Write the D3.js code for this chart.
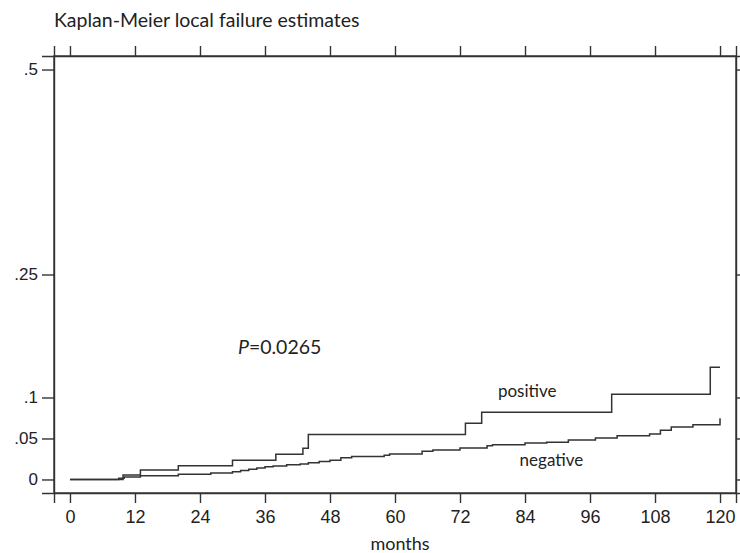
<!DOCTYPE html>
<html>
<head>
<meta charset="utf-8">
<script src="https://cdn.jsdelivr.net/npm/d3@7"></script>
<style>
  body { margin: 0; background: #fff; }
  svg { display: block; font-family: Lato, "Open Sans", sans-serif; }
  .axis text { fill: #222; }
  .axis path, .axis line { stroke: #333; stroke-width: 1.4px; }
</style>
</head>
<body>
<div id="chart"></div>
<script>
// Kaplan-Meier : estimations des échecs locaux

const xTicks = [0, 12, 24, 36, 48, 60, 72, 84, 96, 108, 120];
const yTicks = [0, 0.05, 0.1, 0.25, 0.5];
const yTickLabels = ["0", ".05", ".1", ".25", ".5"];

// [mois, probabilité cumulée d'échec]
const positive = [
    [0, 0], [9.8, 0.0055], [13, 0.0116], [20, 0.0168], [30, 0.0234],
    [38, 0.0307], [43, 0.038], [44, 0.0549], [73, 0.0685], [76, 0.082],
    [100, 0.104], [118.2, 0.137], [120, 0.137]
];

const negative = [
    [0, 0], [9, 0.0015], [10, 0.003], [13, 0.0045], [20, 0.0063],
    [26, 0.0078], [30, 0.0095], [31.5, 0.011], [33, 0.0125], [34.5, 0.014],
    [36, 0.0155], [37.5, 0.0165], [40, 0.018], [42.5, 0.019], [44, 0.0205],
    [46, 0.022], [48, 0.0235], [50, 0.0265], [52, 0.028], [58, 0.0295],
    [59, 0.031], [65, 0.0345], [67, 0.036], [72, 0.0385], [77, 0.041],
    [78, 0.0425], [84, 0.0445], [88, 0.0455], [92, 0.048], [97, 0.0505],
    [101, 0.0533], [107, 0.0555], [109, 0.06], [111, 0.064], [115, 0.0668],
    [120, 0.0746]
];

function createChart() {
    const margin = { top: 56, right: 4, bottom: 60, left: 54 };
    const width = 740 - margin.left - margin.right;
    const height = 553 - margin.top - margin.bottom;

    const svg = d3.select("#chart")
        .append("svg")
        .attr("width", 740)
        .attr("height", 553);

    const g = svg.append("g")
        .attr("transform", `translate(${margin.left},${margin.top})`);

    // Échelles
    const x = d3.scaleLinear().domain([-2.95, 122.95]).range([0, width]);
    const y = d3.scaleLinear().domain([-0.0165, 0.5165]).range([height, 0]);

    // Axes
    g.append("g")
        .attr("class", "axis")
        .attr("transform", `translate(0,${height})`)
        .call(d3.axisBottom(x).tickValues(xTicks).tickSizeOuter(0).tickSize(10))
        .call(a => a.selectAll("text")
            .attr("y", 30)
            .attr("dy", 0)
            .style("font-size", "18px"));

    g.append("g")
        .attr("class", "axis")
        .call(d3.axisTop(x).tickValues(xTicks).tickSizeOuter(0).tickSize(10).tickFormat(""));

    g.append("g")
        .attr("class", "axis")
        .call(d3.axisLeft(y).tickValues(yTicks).tickSizeOuter(0).tickSize(12).tickPadding(4)
            .tickFormat((d, i) => yTickLabels[i]))
        .call(a => a.selectAll("text").style("font-size", "17px"));

    g.append("g")
        .attr("class", "axis")
        .attr("transform", `translate(${width},0)`)
        .call(d3.axisRight(y).tickValues(yTicks).tickSizeOuter(0).tickSize(5).tickFormat(""));

    // Cadre
    g.append("rect")
        .attr("width", width)
        .attr("height", height)
        .attr("fill", "none")
        .attr("stroke", "#333")
        .attr("stroke-width", 1.4);

    // Courbes en escalier
    const line = d3.line()
        .x(d => x(d[0]))
        .y(d => y(d[1]))
        .curve(d3.curveStepAfter);

    [positive, negative].forEach(serie => {
        g.append("path")
            .datum(serie)
            .attr("fill", "none")
            .attr("stroke", "#333")
            .attr("stroke-width", 1.5)
            .attr("d", line);
    });

    // Textes
    svg.append("text")
        .attr("x", 54)
        .attr("y", 27)
        .style("font-size", "19.5px")
        .attr("fill", "#222")
        .text("Kaplan-Meier local failure estimates");

    svg.append("text")
        .attr("x", 400)
        .attr("y", 550)
        .attr("text-anchor", "middle")
        .style("font-size", "18px")
        .attr("fill", "#222")
        .text("months");

    const pText = g.append("text")
        .attr("x", x(31))
        .attr("y", y(0.153))
        .style("font-size", "19.5px")
        .attr("fill", "#222");
    pText.append("tspan").style("font-style", "italic").text("P");
    pText.append("tspan").text("=0.0265");

    g.append("text")
        .attr("x", x(79))
        .attr("y", y(0.1006))
        .style("font-size", "17px")
        .attr("fill", "#222")
        .text("positive");

    g.append("text")
        .attr("x", x(83))
        .attr("y", y(0.0165))
        .style("font-size", "17px")
        .attr("fill", "#222")
        .text("negative");
}

createChart();
</script>
</body>
</html>
